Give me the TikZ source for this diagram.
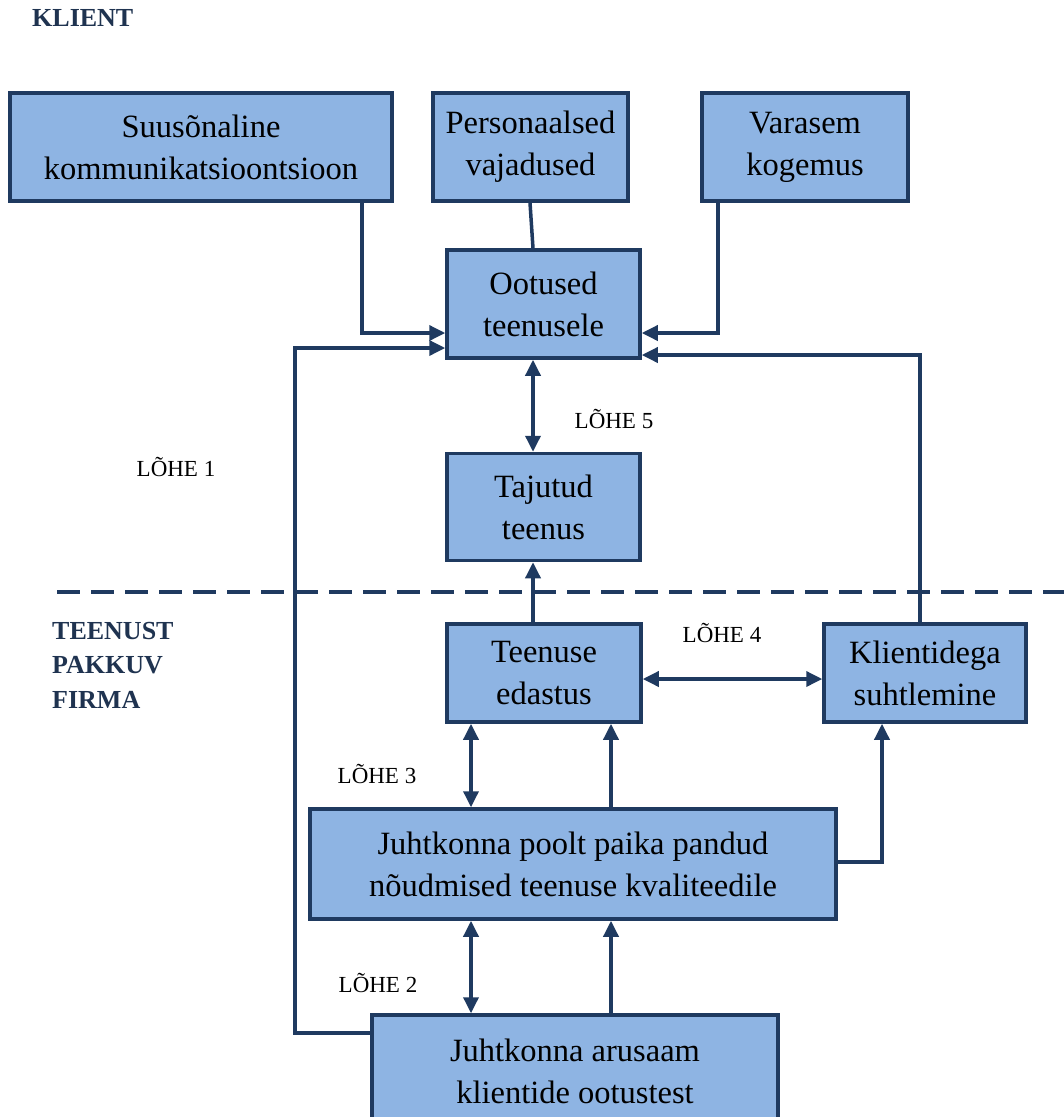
\documentclass[tikz,border=0pt]{standalone}
\usepackage{fontspec}
\setmainfont{Liberation Serif}
\usetikzlibrary{arrows.meta}
\definecolor{boxfill}{HTML}{8EB4E3}
\definecolor{navy}{HTML}{1F3A60}
\definecolor{labnavy}{HTML}{1F3350}
\begin{document}
\begin{tikzpicture}[x=1pt,y=-1pt,
  box/.style={draw=navy,fill=boxfill,line width=3.5pt,inner sep=0pt,align=center,
    font=\fontsize{32.5}{42}\selectfont,text=black},
  ln/.style={draw=navy,line width=3.5pt},
  arr/.style={ln,-{Triangle[length=16pt,width=15pt]}},
  darr/.style={ln,{Triangle[length=16pt,width=15pt]}-{Triangle[length=16pt,width=15pt]}},
  gap/.style={font=\fontsize{23}{28}\selectfont,text=black,inner sep=0pt},
  side/.style={font=\fontsize{26}{34.5}\selectfont\bfseries,text=labnavy,inner sep=0pt,align=left}
]
\useasboundingbox (0,0) rectangle (1064,1117);
\begin{scope}
\clip (0,0) rectangle (1064,1117);
% boxes
\node[box,minimum width=382pt,minimum height=108pt] (sn) at (201,147) {Suusõnaline\\kommunikatsioontsioon};
\node[box,minimum width=195pt,minimum height=108pt] (pv) at (530.5,147) {Personaalsed\\vajadused};
\node[box,minimum width=206pt,minimum height=108pt] (vk) at (805,147) {Varasem\\kogemus};
\node[box,minimum width=193pt,minimum height=108pt] (oot) at (543.5,304) {Ootused\\teenusele};
\node[box,minimum width=193pt,minimum height=107pt] (taj) at (543.5,507) {Tajutud\\teenus};
\node[box,minimum width=194pt,minimum height=98pt] (ted) at (544,673) {Teenuse\\edastus};
\node[box,minimum width=202pt,minimum height=98pt] (kli) at (925,673) {Klientidega\\suhtlemine};
\node[box,minimum width=526pt,minimum height=110pt] (jpp) at (573,864) {Juhtkonna poolt paika pandud\\nõudmised teenuse kvaliteedile};
\node[box,minimum width=406pt,minimum height=112pt] (jar) at (575,1071) {Juhtkonna arusaam\\klientide ootustest};
% labels
\node[side,anchor=north west] (klient) at (32,9) {KLIENT};
\node[side,anchor=north west] (firma) at (52,622) {TEENUST\\PAKKUV\\FIRMA};
\node[gap] (g1) at (176,467) {LÕHE 1};
\node[gap] (g5) at (614,419) {LÕHE 5};
\node[gap] (g4) at (722,633) {LÕHE 4};
\node[gap] (g3) at (377,774) {LÕHE 3};
\node[gap] (g2) at (378,983) {LÕHE 2};
% dashed divider
\coordinate (dl) at (57,592);
\coordinate (dr) at (1064,592);
\draw[navy,line width=4.5pt,dash pattern=on 23pt off 11pt] (dl) -- (dr);
% connectors
\draw[arr] (362,0 |- sn.south) |- (oot.west |- 0,333);
\draw[ln] (530,0 |- pv.south) -- (533,0 |- oot.north);
\draw[arr] (718,0 |- vk.south) |- (oot.east |- 0,333);
\coordinate (lc) at (295,348);
\draw[arr] (jar.west |- 0,1033) -| (lc) -- (oot.west |- lc);
\draw[arr] (920,0 |- kli.north) |- (oot.east |- 0,355);
\draw[darr] (533,0 |- oot.south) -- (533,0 |- taj.north);
\draw[arr] (533,0 |- ted.north) -- (533,0 |- taj.south);
\draw[darr] (ted.east |- 0,679) -- (kli.west |- 0,679);
\draw[darr] (471,0 |- ted.south) -- (471,0 |- jpp.north);
\draw[arr] (611,0 |- jpp.north) -- (611,0 |- ted.south);
\draw[arr] (jpp.east |- 0,862) -| (882,0 |- kli.south);
\draw[darr] (471,0 |- jpp.south) -- (471,0 |- jar.north);
\draw[arr] (611,0 |- jar.north) -- (611,0 |- jpp.south);
\end{scope}
\end{tikzpicture}
\end{document}
